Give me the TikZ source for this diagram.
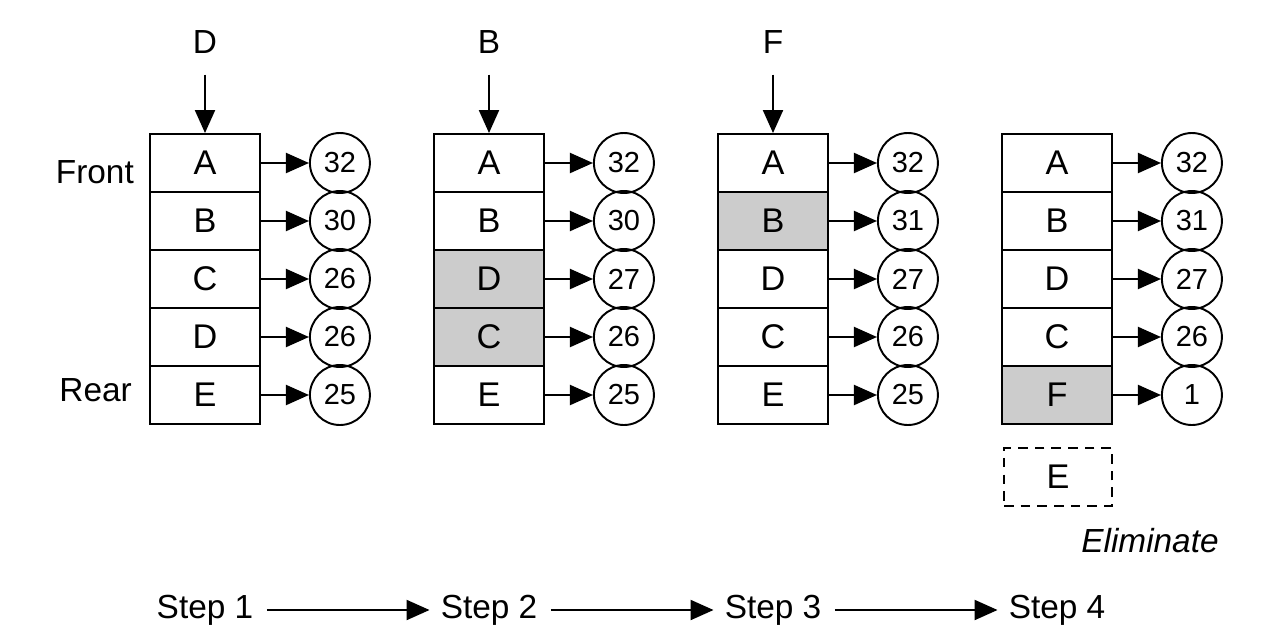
\documentclass[tikz,border=0pt]{standalone}
\usepackage{fontspec}
\setmainfont{Liberation Sans}
\usetikzlibrary{arrows.meta,positioning}
\definecolor{CellClr}{rgb}{0.8,0.8,0.8}

\tikzset{
  cell/.style={draw,line width=1.1pt,minimum width=2.2cm,minimum height=1.16cm,
    inner sep=0pt,font=\fontsize{19.5}{22}\selectfont},
  keynode/.style={draw,circle,line width=1.1pt,minimum size=1.2cm,inner sep=0pt,
    font=\fontsize{16.5}{19}\selectfont},
  ptr/.style={line width=1.2pt,-{Triangle[length=0.46cm,width=0.4cm]}},
  lbl/.style={font=\fontsize{19}{22}\selectfont}
}

\begin{document}
\begin{tikzpicture}[x=0.02cm,y=-0.02cm]
\useasboundingbox (0,0) rectangle (1274,636);

% The four queues: column / row / page / reference count / fill.
\foreach \col/\row/\page/\cnt/\clr in {
  1/1/A/32/white, 1/2/B/30/white, 1/3/C/26/white, 1/4/D/26/white, 1/5/E/25/white,
  2/1/A/32/white, 2/2/B/30/white, 2/3/D/27/CellClr, 2/4/C/26/CellClr, 2/5/E/25/white,
  3/1/A/32/white, 3/2/B/31/CellClr, 3/3/D/27/white, 3/4/C/26/white, 3/5/E/25/white,
  4/1/A/32/white, 4/2/B/31/white, 4/3/D/27/white, 4/4/C/26/white, 4/5/F/1/CellClr}
{
  \node[cell,fill=\clr] (cell\col\row) at ({205+(\col-1)*284},{163+(\row-1)*58}) {\page};
  \node[keynode,right=0.96cm of cell\col\row] (key\col\row) {\cnt};
  \draw[ptr] (cell\col\row) -- (key\col\row);
}

% Incoming pages.
\foreach \col/\page in {1/D,2/B,3/F}
{
  \node[lbl] (in\col) at ({205+(\col-1)*284},42) {\page};
  \draw[ptr,shorten <=0.3cm] (in\col) -- (cell\col1.north);
}

\node[lbl,anchor=east] (front) at (140,172) {Front};
\node[lbl,anchor=east] (rear) at (138,390) {Rear};

% The page that leaves the queue.
\node[cell,dash pattern=on 5.5pt off 4pt,minimum width=2.16cm] (out) at (1058,477) {E};
\node[lbl,font=\fontsize{19}{22}\selectfont\itshape] (elim) at (1150,541) {Eliminate};

% Steps.
\foreach \s in {1,...,4}
  \node[lbl] (step\s) at ({205+(\s-1)*284},610) {Step \s};
\foreach \s/\t in {1/2,2/3,3/4}
  \draw[ptr,shorten <=0.15cm,shorten >=0.1cm] (step\s) -- (step\t);

\end{tikzpicture}
\end{document}
